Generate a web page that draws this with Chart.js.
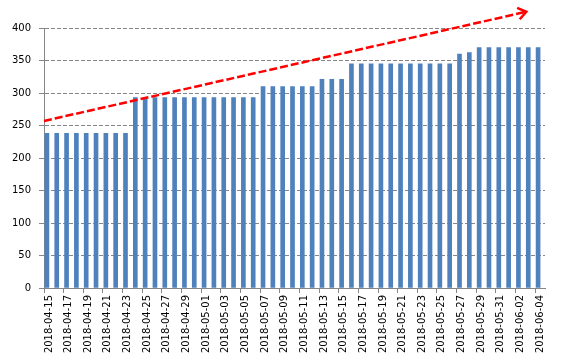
<!DOCTYPE html>
<html>
<head>
<meta charset="utf-8">
<script src="https://cdn.jsdelivr.net/npm/chart.js@4/dist/chart.umd.min.js"></script>
<style>
html,body{margin:0;padding:0;background:#fff;}
#wrap{width:569px;height:364px;position:relative;}
</style>
</head>
<body>
<div id="wrap"><canvas id="c" width="569" height="364"></canvas></div>
<script>
const dates = [
  "2018-04-15","2018-04-16","2018-04-17","2018-04-18","2018-04-19","2018-04-20","2018-04-21","2018-04-22","2018-04-23","2018-04-24",
  "2018-04-25","2018-04-26","2018-04-27","2018-04-28","2018-04-29","2018-04-30","2018-05-01","2018-05-02","2018-05-03","2018-05-04",
  "2018-05-05","2018-05-06","2018-05-07","2018-05-08","2018-05-09","2018-05-10","2018-05-11","2018-05-12","2018-05-13","2018-05-14",
  "2018-05-15","2018-05-16","2018-05-17","2018-05-18","2018-05-19","2018-05-20","2018-05-21","2018-05-22","2018-05-23","2018-05-24",
  "2018-05-25","2018-05-26","2018-05-27","2018-05-28","2018-05-29","2018-05-30","2018-05-31","2018-06-01","2018-06-02","2018-06-03",
  "2018-06-04"
];
const values = [
  238,238,238,238,238,238,238,238,238,293,
  293,293,293,293,293,293,293,293,293,293,
  293,293,310,310,310,310,310,310,321,321,
  321,345,345,345,345,345,345,345,345,345,
  345,345,360,362,370,370,370,370,370,370,
  370
];
const yTicks = [0,50,100,150,200,250,300,350,400];
// trend arrow (position along category index, value)
const trendX = [-0.5, 48.6];
const trendY = [257, 425];

const FONT = {family: "'DejaVu Sans', sans-serif", size: 10};
const GRAY = '#868686';

const arrowHead = {
  id: 'arrowHead',
  afterDatasetsDraw(chart) {
    const meta = chart.getDatasetMeta(1);
    const pts = meta.data;
    if (pts.length < 2) return;
    const a = pts[pts.length - 2], b = pts[pts.length - 1];
    const ang = Math.atan2(b.y - a.y, b.x - a.x);
    const len = 10, spread = Math.PI / 5;
    const ctx = chart.ctx;
    ctx.save();
    ctx.strokeStyle = '#FF0000';
    ctx.lineWidth = 2.5;
    ctx.setLineDash([]);
    ctx.lineCap = 'butt';
    ctx.lineJoin = 'miter';
    ctx.beginPath();
    ctx.moveTo(b.x - len * Math.cos(ang - spread), b.y - len * Math.sin(ang - spread));
    ctx.lineTo(b.x, b.y);
    ctx.lineTo(b.x - len * Math.cos(ang + spread), b.y - len * Math.sin(ang + spread));
    ctx.stroke();
    ctx.restore();
  }
};

new Chart(document.getElementById('c'), {
  data: {
    labels: dates,
    datasets: [
      {
        type: 'bar',
        data: values,
        backgroundColor: '#4F81BD',
        borderWidth: 0,
        barThickness: 4,
        xAxisID: 'x',
        yAxisID: 'y',
        order: 2
      },
      {
        type: 'line',
        data: trendX.map((x, i) => ({x: x, y: trendY[i]})),
        borderColor: '#FF0000',
        borderWidth: 2.5,
        borderDash: [8, 3],
        pointRadius: 0,
        fill: false,
        clip: false,
        xAxisID: 'x2',
        yAxisID: 'y',
        order: 1
      }
    ]
  },
  options: {
    responsive: false,
    animation: false,
    devicePixelRatio: 1,
    layout: {padding: {top: 28, right: 24, left: 0, bottom: 0}},
    plugins: {legend: {display: false}, tooltip: {enabled: false}},
    scales: {
      x: {
        type: 'category',
        offset: true,
        afterFit(s) { s.height = 76; },
        grid: {
          offset: true,
          drawOnChartArea: false,
          drawTicks: true,
          tickLength: 5,
          color: (ctx) => (ctx.index % 2 === 0 ? GRAY : 'rgba(0,0,0,0)')
        },
        border: {display: true, color: GRAY, width: 1},
        ticks: {
          autoSkip: false,
          maxRotation: 90,
          minRotation: 90,
          padding: 2,
          color: '#000',
          font: FONT,
          callback(v, i) { return i % 2 === 0 ? dates[i] : ''; }
        }
      },
      x2: {
        type: 'linear',
        display: false,
        min: -0.5,
        max: dates.length - 0.5
      },
      y: {
        min: 0,
        max: 400,
        afterFit(s) { s.width = 44; },
        afterBuildTicks(s) { s.ticks = yTicks.map(v => ({value: v})); },
        grid: {
          color: GRAY,
          lineWidth: 1,
          tickLength: 5,
          tickColor: GRAY,
          tickBorderDash: [],
          tickBorderDashOffset: 0
        },
        border: {display: true, color: GRAY, width: 1, dash: [4, 2]},
        ticks: {
          padding: 8,
          color: '#000',
          font: FONT
        }
      }
    }
  },
  plugins: [arrowHead]
});
</script>
</body>
</html>
